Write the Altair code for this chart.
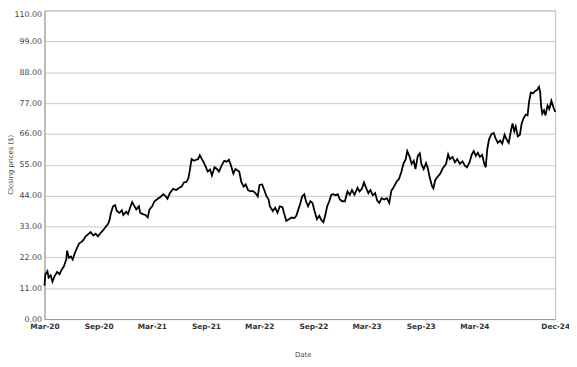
import altair as alt
import pandas as pd

dates = [
    "2020-03-01", "2020-03-04", "2020-03-11", "2020-03-15", "2020-03-22", "2020-03-28",
    "2020-04-04", "2020-04-13", "2020-04-21", "2020-04-29", "2020-05-06", "2020-05-14",
    "2020-05-17", "2020-05-23", "2020-05-30", "2020-06-05", "2020-06-12", "2020-06-19",
    "2020-06-27", "2020-07-05", "2020-07-12", "2020-07-19", "2020-07-27", "2020-08-05",
    "2020-08-14", "2020-08-22", "2020-08-30", "2020-09-07", "2020-09-16", "2020-09-24",
    "2020-10-03", "2020-10-08", "2020-10-13", "2020-10-20", "2020-10-27", "2020-11-02",
    "2020-11-11", "2020-11-19", "2020-11-24", "2020-12-04", "2020-12-10", "2020-12-17",
    "2020-12-24", "2021-01-07", "2021-01-16", "2021-01-20", "2021-01-29", "2021-02-07",
    "2021-02-15", "2021-02-21", "2021-03-02", "2021-03-10", "2021-03-21", "2021-04-01",
    "2021-04-09", "2021-04-17", "2021-04-23", "2021-05-01", "2021-05-12", "2021-05-23",
    "2021-06-02", "2021-06-10", "2021-06-18", "2021-06-26", "2021-07-03", "2021-07-07",
    "2021-07-14", "2021-07-22", "2021-07-30", "2021-08-05", "2021-08-11", "2021-08-18",
    "2021-08-24", "2021-09-01", "2021-09-07", "2021-09-15", "2021-09-21", "2021-09-30",
    "2021-10-08", "2021-10-15", "2021-10-24", "2021-11-02", "2021-11-10", "2021-11-18",
    "2021-11-25", "2021-12-03", "2021-12-10", "2021-12-23", "2021-12-30", "2022-01-07",
    "2022-01-14", "2022-01-22", "2022-01-30", "2022-02-07", "2022-02-16", "2022-02-24",
    "2022-03-02", "2022-03-11", "2022-03-18", "2022-03-26", "2022-04-02", "2022-04-06",
    "2022-04-16", "2022-04-24", "2022-05-02", "2022-05-10", "2022-05-19", "2022-05-24",
    "2022-06-01", "2022-06-10", "2022-06-19", "2022-06-28", "2022-07-05", "2022-07-12",
    "2022-07-19", "2022-07-25", "2022-08-01", "2022-08-07", "2022-08-14", "2022-08-22",
    "2022-08-29", "2022-09-05", "2022-09-13", "2022-09-21", "2022-09-28", "2022-10-05",
    "2022-10-11", "2022-10-18", "2022-10-25", "2022-11-01", "2022-11-08", "2022-11-16",
    "2022-11-23", "2022-11-30", "2022-12-08", "2022-12-17", "2022-12-26", "2023-01-03",
    "2023-01-10", "2023-01-19", "2023-01-29", "2023-02-05", "2023-02-13", "2023-02-20",
    "2023-02-28", "2023-03-07", "2023-03-14", "2023-03-22", "2023-03-30", "2023-04-06",
    "2023-04-13", "2023-04-21", "2023-04-30", "2023-05-09", "2023-05-17", "2023-05-24",
    "2023-06-02", "2023-06-12", "2023-06-19", "2023-06-27", "2023-07-04", "2023-07-12",
    "2023-07-17", "2023-07-25", "2023-08-01", "2023-08-08", "2023-08-14", "2023-08-22",
    "2023-08-29", "2023-09-03", "2023-09-11", "2023-09-19", "2023-09-25", "2023-10-01",
    "2023-10-09", "2023-10-14", "2023-10-20", "2023-10-28", "2023-11-06", "2023-11-15",
    "2023-11-26", "2023-12-03", "2023-12-09", "2023-12-18", "2023-12-26", "2024-01-03",
    "2024-01-12", "2024-01-21", "2024-01-29", "2024-02-05", "2024-02-14", "2024-02-21",
    "2024-02-28", "2024-03-06", "2024-03-13", "2024-03-20", "2024-03-28", "2024-04-04",
    "2024-04-09", "2024-04-14", "2024-04-20", "2024-04-28", "2024-05-06", "2024-05-12",
    "2024-05-20", "2024-05-28", "2024-06-04", "2024-06-12", "2024-06-19", "2024-06-26",
    "2024-07-04", "2024-07-09", "2024-07-15", "2024-07-20", "2024-07-27", "2024-08-03",
    "2024-08-09", "2024-08-16", "2024-08-23", "2024-08-29", "2024-09-03", "2024-09-09",
    "2024-09-17", "2024-09-24", "2024-09-30", "2024-10-07", "2024-10-11", "2024-10-14",
    "2024-10-18", "2024-10-24", "2024-10-29", "2024-11-05", "2024-11-11", "2024-11-18",
    "2024-11-25", "2024-12-01",
]

prices = [
    11.9, 16.0, 17.1, 14.8, 15.6, 13.3,
    15.2, 16.8, 16.0, 17.7, 18.8, 21.2,
    24.4, 21.8, 22.3, 21.2, 23.5, 25.2,
    27.0, 27.5, 28.3, 29.5, 30.2, 31.0,
    29.8, 30.4, 29.5, 30.6, 31.6, 32.7,
    33.9, 35.3, 37.9, 40.2, 40.6, 38.5,
    37.9, 38.8, 37.1, 38.3, 37.4, 39.7,
    41.7, 39.1, 40.2, 37.9, 37.4, 37.1,
    36.2, 39.1, 40.2, 42.0, 42.9, 43.7,
    44.5, 43.7, 42.9, 44.9, 46.4, 46.0,
    46.8, 47.2, 48.7, 48.9, 50.1, 52.4,
    57.0, 56.4, 56.8, 57.0, 58.4, 57.0,
    55.9, 54.1, 52.6, 53.3, 51.2, 54.1,
    53.5, 52.6, 54.7, 56.4, 56.1, 56.8,
    54.7, 51.8, 53.5, 52.6, 48.9, 47.2,
    48.0, 46.0, 45.5, 45.7, 44.9, 43.7,
    47.8, 48.0, 46.0, 43.7, 42.6, 40.2,
    38.5, 39.7, 37.9, 40.2, 39.9, 37.9,
    35.0, 35.6, 36.2, 36.0, 36.8, 39.1,
    41.4, 43.7, 44.5, 42.0, 40.2, 42.0,
    41.4, 38.5, 35.6, 36.8, 35.3, 34.5,
    36.8, 40.2, 42.0, 44.3, 44.5, 44.1,
    44.5, 42.6, 42.0, 42.0, 45.5, 44.3,
    46.0, 44.3, 46.8, 45.5, 46.4, 48.7,
    46.6, 44.9, 46.0, 44.1, 44.9, 42.2,
    41.4, 43.1, 42.6, 43.1, 41.4, 45.7,
    47.2, 49.2, 49.9, 52.4, 55.3, 57.0,
    59.9, 57.9, 55.3, 56.4, 53.5, 58.2,
    59.1, 55.3, 53.5, 55.6, 53.8, 50.7,
    47.5, 46.6, 49.5, 50.7, 51.8, 53.8,
    55.3, 58.7, 57.0, 57.8, 55.9, 57.0,
    55.3, 56.2, 54.7, 54.1, 55.9, 58.5,
    59.9, 58.2, 59.3, 57.8, 58.5, 55.3,
    54.1, 60.5, 64.0, 65.9, 66.3, 64.5,
    62.8, 63.6, 62.5, 65.7, 64.0, 62.8,
    67.4, 69.7, 66.9, 68.6, 65.1, 65.7,
    69.7, 71.7, 72.9, 72.6, 77.3, 80.7,
    80.5, 81.3, 81.6, 82.8, 80.9, 76.1,
    73.2, 74.4, 72.6, 76.1, 74.9, 77.8,
    75.5, 73.8,
]

tick_dates = [(2020, 3), (2020, 9), (2021, 3), (2021, 9), (2022, 3), (2022, 9),
              (2023, 3), (2023, 9), (2024, 3), (2024, 12)]
y_ticks = [0, 11, 22, 33, 44, 55, 66, 77, 88, 99, 110]

df = pd.DataFrame({"Date": dates, "Price": prices})

FONT = "DejaVu Sans"

chart = (
    alt.Chart(df)
    .mark_line(color="#000000", strokeWidth=1.8, interpolate="linear")
    .encode(
        x=alt.X(
            "Date:T",
            scale=alt.Scale(
                type="utc",
                domain=[alt.DateTime(year=2020, month=3, date=1, utc=True),
                        alt.DateTime(year=2024, month=12, date=1, utc=True)],
                nice=False,
            ),
            axis=alt.Axis(
                title="Date",
                values=[alt.DateTime(year=y, month=m, date=1, utc=True) for y, m in tick_dates],
                format="%b-%y",
                grid=False,
                ticks=False,
                labelFont=FONT,
                labelFontSize=7.5,
                labelFontWeight="bold",
                labelColor="#333333",
                labelPadding=4,
                labelOverlap=False,
                labelFlush=False,
                domainColor="#999999",
                titleFont=FONT,
                titleFontSize=7,
                titleFontWeight="normal",
                titleColor="#444444",
                titleX=262,
                titleY=38,
                titleBaseline="alphabetic",
                titleAlign="center",
            ),
        ),
        y=alt.Y(
            "Price:Q",
            scale=alt.Scale(domain=[0, 110], nice=False, zero=True),
            axis=alt.Axis(
                title="Closing prices ($)",
                values=y_ticks,
                format=".2f",
                grid=True,
                gridColor="#c8c8c8",
                gridWidth=1,
                ticks=False,
                labelFont=FONT,
                labelFontSize=8,
                labelColor="#444444",
                labelPadding=3,
                labelFlush=False,
                labelBaseline=alt.condition("datum.value >= 110", alt.value("top"), alt.value("middle")),
                domainColor="#999999",
                titleFont=FONT,
                titleFontSize=7,
                titleFontWeight="normal",
                titleColor="#444444",
                titleAngle=270,
                titleX=-34,
                titleY=156,
                titleAlign="center",
                titleBaseline="middle",
            ),
        ),
    )
    .properties(
        width=518,
        height=313,
        autosize=alt.AutoSizeParams(type="none"),
        padding={"left": 37, "top": 0, "right": 14, "bottom": 38},
    )
    .configure_view(stroke="#bbbbbb", strokeWidth=1)
)

chart.save("out.html", embed_options={"renderer": "svg", "actions": False})
